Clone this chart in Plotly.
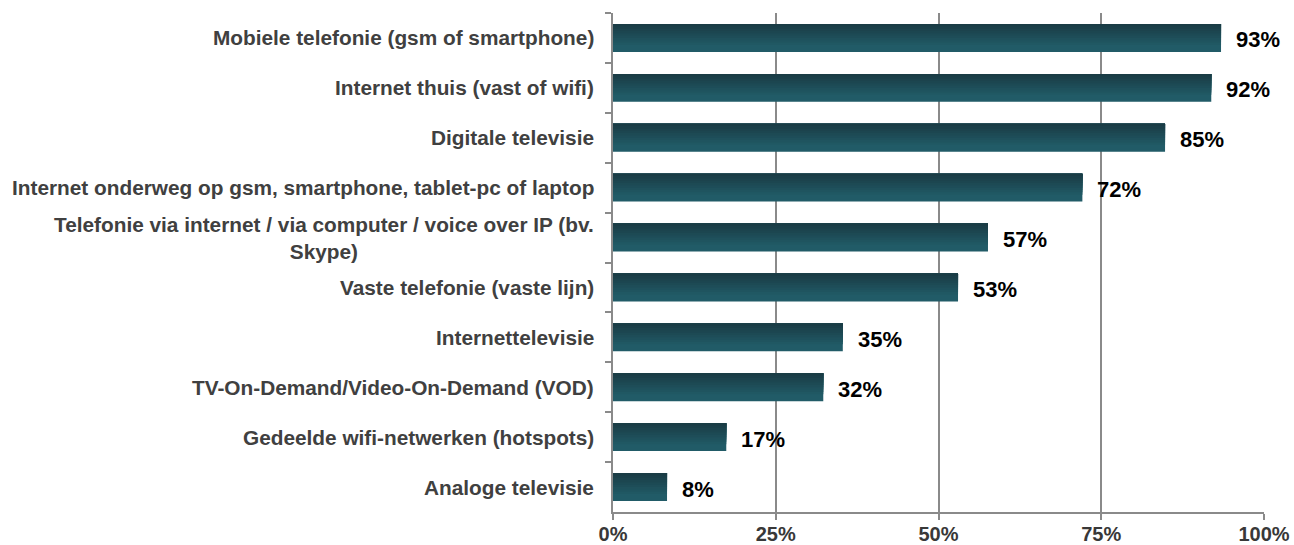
import plotly.graph_objects as go

categories = [
    "Mobiele telefonie (gsm of smartphone)",
    "Internet thuis (vast of wifi)",
    "Digitale televisie",
    "Internet onderweg op gsm, smartphone, tablet-pc of laptop",
    "Telefonie via internet / via computer / voice over IP (bv.<br>Skype)",
    "Vaste telefonie (vaste lijn)",
    "Internettelevisie",
    "TV-On-Demand/Video-On-Demand (VOD)",
    "Gedeelde wifi-netwerken (hotspots)",
    "Analoge televisie",
]
values = [93.4, 91.9, 84.8, 72.1, 57.6, 53.0, 35.3, 32.3, 17.4, 8.3]
value_labels = ["93%", "92%", "85%", "72%", "57%", "53%", "35%", "32%", "17%", "8%"]
x_ticks = [0, 25, 50, 75, 100]
x_tick_labels = ["0%", "25%", "50%", "75%", "100%"]

BAR_W = 0.56
TOP_C = (26, 60, 69)
BOT_C = (33, 91, 103)
N = 10


def mix(a, b, t):
    return "rgb(%d,%d,%d)" % tuple(round(a[i] + (b[i] - a[i]) * t) for i in range(3))


fig = go.Figure()
# layered bars to approximate the vertical gradient (dark top -> lighter bottom)
for k in range(N):
    if k == 0:
        frac = 1.0
        color = mix(BOT_C, BOT_C, 0)
    else:
        frac = 0.75 * (1 - (k - 1) / (N - 1))
        color = mix(BOT_C, TOP_C, k / (N - 1))
    fig.add_trace(go.Bar(
        y=categories, x=values, orientation="h",
        width=BAR_W * frac, offset=-BAR_W / 2,
        marker=dict(color=color, line=dict(width=0)),
        hoverinfo="skip", showlegend=False,
    ))

annotations = []
for cat, v, lab in zip(categories, values, value_labels):
    annotations.append(dict(
        x=v, y=cat, xref="x", yref="y", text=lab, showarrow=False,
        xanchor="left", yanchor="middle", xshift=13, yshift=-2,
        font=dict(family="Liberation Sans, Arial", size=22, color="#000000", weight="bold"),
    ))
    annotations.append(dict(
        x=0, y=cat, xref="paper", yref="y", text=cat, showarrow=False,
        xanchor="right", yanchor="middle", xshift=-17, align="center",
        font=dict(family="Liberation Sans, Arial", size=20.8, color="#404040", weight="bold"),
    ))

AX = "#8a8a8a"
fig.update_layout(
    width=1294, height=545,
    margin=dict(l=613, r=30, t=13, b=33, autoexpand=False),
    paper_bgcolor="white", plot_bgcolor="white",
    barmode="overlay",
    annotations=annotations,
    xaxis=dict(
        range=[0, 100], tickvals=x_ticks, ticktext=x_tick_labels,
        showgrid=True, gridcolor=AX, gridwidth=2,
        showline=True, linecolor=AX, linewidth=2,
        ticks="outside", ticklen=6, tickcolor=AX, tickwidth=2,
        ticklabelstandoff=-3,
        zeroline=False, fixedrange=True, automargin=False,
        tickfont=dict(family="Liberation Sans, Arial", size=20, color="#383838", weight="bold"),
    ),
    yaxis=dict(
        type="category", autorange="reversed", automargin=False,
        showgrid=False, showline=True, linecolor=AX, linewidth=2,
        ticks="outside", ticklen=6, tickcolor=AX, tickwidth=2, tickson="boundaries",
        showticklabels=False, zeroline=False, fixedrange=True,
    ),
)

fig.write_html(
    "out.html",
    config={"displayModeBar": False},
    post_script="document.body.style.margin='0';document.body.style.overflow='hidden';",
)
